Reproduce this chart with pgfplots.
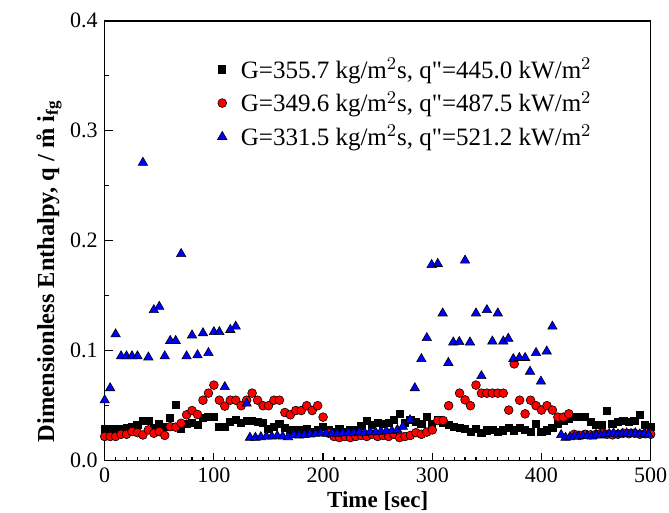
\documentclass[border=0pt]{standalone}
\usepackage{pgfplots}
\pgfplotsset{compat=1.18}
\usepackage{fontspec}
\setmainfont{Liberation Serif}
\newfontfamily\qfont{Liberation Serif}
\newcommand{\dq}{{\qfont"}}
\begin{document}
\begin{tikzpicture}
\path[use as bounding box] (-52.35pt,-26.15pt) rectangle (282.15pt,230.35pt);
\begin{axis}[
  at={(0pt,0pt)}, anchor=south west,
  scale only axis, width=273pt, height=220pt,
  xmin=0, xmax=500, ymin=0, ymax=0.4,
  xtick={0,100,200,300,400,500},
  ytick={0,0.1,0.2,0.3,0.4},
  minor x tick num=9, minor y tick num=1,
  xtick pos=bottom, ytick pos=left,
  tick align=inside,
  major tick length=4pt, minor tick length=2pt,
  axis line style={line width=0.8pt},
  every tick/.style={black, line width=0.6pt},
  /pgf/number format/assume math mode=true,
  yticklabel style={/pgf/number format/fixed, /pgf/number format/fixed zerofill, /pgf/number format/precision=1},
  tick label style={font=\fontsize{11}{13}\selectfont},
  xlabel={\textbf{Time [sec]}},
  ylabel={\textbf{Dimensionless Enthalpy, q / \r{m} i\textsubscript{fg}}},
  xlabel style={font=\fontsize{11.5}{13}\selectfont, at={(rel axis cs:0.5,0)}, anchor=north, yshift=-12pt},
  ylabel style={font=\fontsize{12.2}{14}\selectfont, at={(rel axis cs:0,0.431)}, anchor=south, yshift=18pt},
  legend style={draw=none, fill=none, at={(0.182,0.935)}, anchor=north west,
    font=\fontsize{12.5}{14}\selectfont, row sep=1.2pt, legend cell align=left},
  legend image code/.code={\path (0cm,0cm) (0.45cm,0cm); \draw plot coordinates {(0.2cm,0cm)};},
]
\addplot[only marks, mark=square*, mark size=1.8pt, draw=black, fill=black] coordinates {
(0,0.0286)(5,0.0286)(10,0.029)(15,0.029)(20,0.030)(25,0.0305)(30,0.0326)(35,0.0365)(40,0.0365)(45,0.030)
(50,0.033)(55,0.031)(60,0.0386)(65,0.0505)(70,0.0293)(75,0.0335)(80,0.0347)(85,0.0326)(90,0.0386)(95,0.0396)
(100,0.0396)(105,0.0304)(110,0.031)(115,0.0356)(120,0.0371)(125,0.034)(130,0.0365)(135,0.0365)(140,0.0356)(145,0.034)
(150,0.0286)(155,0.031)(160,0.0335)(165,0.0295)(170,0.028)(175,0.0275)(180,0.028)(185,0.0285)(190,0.0265)(195,0.028)
(200,0.0304)(205,0.028)(210,0.0265)(215,0.0286)(220,0.0265)(225,0.028)(230,0.028)(235,0.0316)(240,0.0365)(245,0.0326)
(250,0.034)(255,0.0335)(260,0.034)(265,0.0371)(270,0.0426)(275,0.0347)(280,0.0371)(285,0.035)(290,0.0335)(295,0.0396)
(300,0.0335)(305,0.0371)(310,0.034)(315,0.0326)(320,0.0304)(325,0.0295)(330,0.0286)(335,0.0265)(340,0.0286)(345,0.025)
(350,0.0275)(355,0.028)(360,0.0265)(365,0.0275)(370,0.030)(375,0.0275)(380,0.030)(385,0.028)(390,0.0265)(395,0.0335)
(400,0.0265)(405,0.0275)(410,0.030)(415,0.0335)(420,0.0365)(425,0.0377)(430,0.0396)(435,0.040)(440,0.0396)(445,0.0356)
(450,0.0326)(455,0.0326)(460,0.0456)(465,0.0335)(470,0.0356)(475,0.0365)(480,0.0356)(485,0.0365)(490,0.0417)(495,0.0326)
(500,0.031)
};
\addlegendentry{G=355.7 kg/m$^2$s, q\dq=445.0 kW/m$^2$}
\addplot[only marks, mark=*, mark size=2.2pt, draw=black, line width=0.3pt, fill=red] coordinates {
(0,0.022)(5,0.022)(10,0.022)(15,0.024)(20,0.024)(25,0.0265)(30,0.0255)(35,0.0234)(40,0.028)(45,0.025)
(50,0.0265)(55,0.023)(60,0.031)(65,0.0305)(70,0.034)(75,0.0417)(80,0.0456)(85,0.042)(90,0.055)(95,0.0614)
(100,0.0687)(105,0.055)(110,0.0496)(115,0.055)(120,0.055)(125,0.050)(130,0.055)(135,0.0614)(140,0.055)(145,0.050)
(150,0.050)(155,0.055)(160,0.055)(165,0.0438)(170,0.0417)(175,0.0456)(180,0.0456)(185,0.050)(190,0.0456)(195,0.050)
(200,0.0396)(205,0.025)(210,0.022)(215,0.021)(220,0.022)(225,0.021)(230,0.022)(235,0.023)(240,0.022)(245,0.024)
(250,0.022)(255,0.023)(260,0.022)(265,0.024)(270,0.021)(275,0.022)(280,0.023)(285,0.0255)(290,0.024)(295,0.026)
(300,0.028)(305,0.0365)(310,0.0365)(315,0.050)(325,0.0614)(330,0.0553)(335,0.050)(340,0.0687)(345,0.0614)
(350,0.0614)(355,0.0614)(360,0.0614)(365,0.0614)(370,0.046)(375,0.088)(380,0.055)(385,0.0426)(390,0.055)(395,0.050)
(400,0.046)(405,0.050)(410,0.046)(415,0.0396)(420,0.0396)(425,0.0426)(430,0.024)(435,0.023)(440,0.024)(445,0.0235)
(450,0.024)(455,0.025)(460,0.024)(465,0.0235)(470,0.024)(475,0.025)(480,0.0245)(485,0.025)(490,0.024)(495,0.0245)(500,0.024)
};
\addlegendentry{G=349.6 kg/m$^2$s, q\dq=487.5 kW/m$^2$}
\addplot[only marks, mark=triangle*, mark size=2.7pt, draw=black, line width=0.3pt, fill=blue] coordinates {
(0,0.055)(5,0.066)(10,0.115)(15,0.095)(20,0.095)(25,0.095)(30,0.095)(35,0.271)(40,0.094)(45,0.137)
(50,0.140)(55,0.095)(60,0.109)(65,0.109)(70,0.188)(75,0.095)(80,0.114)(85,0.096)(90,0.116)(95,0.098)
(100,0.117)(105,0.117)(110,0.067)(115,0.119)(120,0.122)(130,0.052)
(133,0.021)(138,0.021)(143,0.0215)(148,0.022)(153,0.022)(158,0.0225)(163,0.022)(168,0.0215)(173,0.0235)(178,0.023)
(183,0.0235)(188,0.024)(193,0.0245)(198,0.025)(203,0.0245)(208,0.025)(213,0.0245)(218,0.025)(223,0.0255)(228,0.025)
(233,0.026)(238,0.0255)(243,0.026)(248,0.026)(253,0.0265)(258,0.027)(263,0.027)(268,0.028)(273,0.031)(279.6,0.037)
(284,0.066)(290,0.0925)(295,0.1116)(299.4,0.178)(305,0.179)(309.5,0.134)(314.7,0.089)(319.2,0.1076)(324.7,0.108)(330,0.182)
(334.5,0.1076)(340,0.134)(345,0.077)(350,0.137)(355,0.1085)(360,0.134)(365,0.1085)(369.6,0.111)(374.2,0.0925)(379.7,0.0935)
(385,0.0935)(389.5,0.081)(395,0.098)(399.5,0.072)(404.8,0.0994)(410,0.122)
(418,0.0234)(422,0.021)(426,0.0215)(430,0.022)(434,0.022)(438,0.0225)(442,0.0225)(446,0.022)(450,0.0235)(454,0.023)
(458,0.024)(462,0.0245)(466,0.025)(470,0.024)(474,0.0245)(478,0.025)(482,0.0245)(486,0.025)(490,0.024)(494,0.0245)(498,0.024)
};
\addlegendentry{G=331.5 kg/m$^2$s, q\dq=521.2 kW/m$^2$}
\end{axis}
\end{tikzpicture}
\end{document}
